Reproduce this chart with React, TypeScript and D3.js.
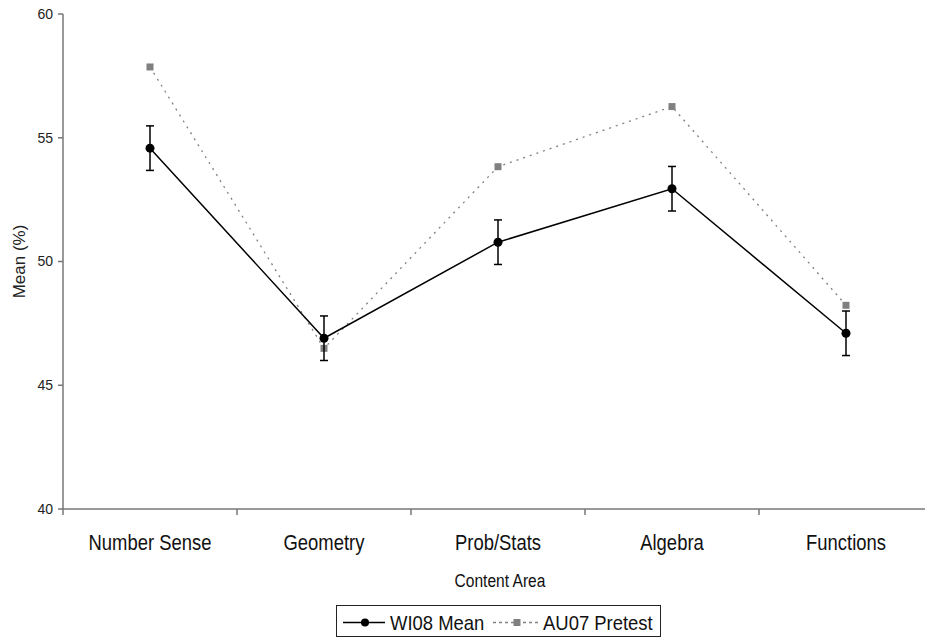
import * as d3 from "d3";

const categories = ["Number Sense", "Geometry", "Prob/Stats", "Algebra", "Functions"];
const wi08Mean = [54.58, 46.9, 50.78, 52.94, 47.1];
const wi08Err = [0.9, 0.9, 0.9, 0.9, 0.9];
const au07Pretest = [57.86, 46.49, 53.83, 56.26, 48.23];
const yTicks = [40, 45, 50, 55, 60];
const seriesNames = ["WI08 Mean", "AU07 Pretest"];

const width = 925;
const height = 641;
const marginLeft = 63;
const plotRight = 933;
const plotTop = 14;
const plotBottom = 509;

const sans = "'Liberation Sans', Arial, sans-serif";
const axisColor = "#777";

// no narrow face installed, so squeeze the regular one
function NarrowText({ x, y, size, squeeze = 0.82, anchor = "middle", children }: { x: number; y: number; size: number; squeeze?: number; anchor?: string; children: string }) {
    return (
        <text
            transform={`translate(${x},${y}) scale(${squeeze},1)`}
            textAnchor={anchor}
            fontFamily={sans}
            fontSize={size}
            fill="#111"
        >
            {children}
        </text>
    );
}

export default function App() {
    const x = d3.scaleBand<string>().domain(categories).range([marginLeft, plotRight]);
    const y = d3.scaleLinear().domain([40, 60]).range([plotBottom, plotTop]);
    const cx = (c: string) => (x(c) ?? 0) + x.bandwidth() / 2;

    const line = d3
        .line<number>()
        .x((_d, i) => cx(categories[i]))
        .y((d) => y(d));

    const boundaries = categories.map((c) => x(c) ?? 0).concat([plotRight]);

    const legY = 622.5;

    return (
        <svg
            width={width}
            height={height}
            style={{ position: "absolute", left: 0, top: 0, background: "white" }}
        >
            {/* y axis */}
            <line x1={marginLeft} x2={marginLeft} y1={plotTop} y2={plotBottom} stroke={axisColor} strokeWidth={1.5} />
            {yTicks.map((t) => (
                <g key={t}>
                    <line x1={marginLeft - 5} x2={marginLeft} y1={y(t)} y2={y(t)} stroke={axisColor} strokeWidth={1.5} />
                    <text x={marginLeft - 10} y={y(t)} dy="0.35em" textAnchor="end" fontFamily={sans} fontSize={14} fill="#222">
                        {t}
                    </text>
                </g>
            ))}
            <text
                transform={`translate(19,${(plotTop + plotBottom) / 2}) rotate(-90)`}
                textAnchor="middle"
                dy="0.35em"
                fontFamily={sans}
                fontSize={17}
                fill="#222"
            >
                Mean (%)
            </text>

            {/* x axis */}
            <line x1={marginLeft} x2={plotRight} y1={plotBottom} y2={plotBottom} stroke={axisColor} strokeWidth={1.5} />
            {boundaries.map((b, i) => (
                <line key={i} x1={b} x2={b} y1={plotBottom} y2={plotBottom + 6} stroke={axisColor} strokeWidth={1.5} />
            ))}
            {categories.map((c) => (
                <NarrowText key={c} x={cx(c)} y={550} size={22.5}>
                    {c}
                </NarrowText>
            ))}
            <NarrowText x={(marginLeft + plotRight) / 2 + 2} y={587} size={19}>
                Content Area
            </NarrowText>

            {/* AU07 pretest */}
            <path d={String(line(au07Pretest))} fill="none" stroke="#808080" strokeWidth={1.3} strokeDasharray="2,5" />
            {au07Pretest.map((v, i) => (
                <rect key={i} x={cx(categories[i]) - 3.5} y={y(v) - 3.5} width={7} height={7} fill="#808080" />
            ))}

            {/* WI08 mean */}
            <path d={String(line(wi08Mean))} fill="none" stroke="#000" strokeWidth={1.5} />
            {wi08Mean.map((v, i) => {
                const px = cx(categories[i]);
                const top = y(v + wi08Err[i]);
                const bot = y(v - wi08Err[i]);
                return (
                    <g key={i} stroke="#000" strokeWidth={1.5}>
                        <line x1={px} x2={px} y1={top} y2={bot} />
                        <line x1={px - 4} x2={px + 4} y1={top} y2={top} />
                        <line x1={px - 4} x2={px + 4} y1={bot} y2={bot} />
                        <circle cx={px} cy={y(v)} r={4.5} fill="#000" stroke="none" />
                    </g>
                );
            })}

            {/* legend */}
            <g>
                <rect x={336.5} y={605.5} width={324} height={31} fill="white" stroke="#222" strokeWidth={1} />
                <line x1={343} x2={385} y1={legY} y2={legY} stroke="#000" strokeWidth={1.5} />
                <circle cx={365} cy={legY} r={4} fill="#000" />
                <NarrowText x={390} y={629.5} size={20.5} squeeze={0.9} anchor="start">
                    {seriesNames[0]}
                </NarrowText>
                <line x1={493} x2={540} y1={legY} y2={legY} stroke="#808080" strokeWidth={1.3} strokeDasharray="3,3" />
                <rect x={513.5} y={legY - 3.5} width={7} height={7} fill="#808080" />
                <NarrowText x={543} y={629.5} size={20.5} squeeze={0.9} anchor="start">
                    {seriesNames[1]}
                </NarrowText>
            </g>
        </svg>
    );
}
